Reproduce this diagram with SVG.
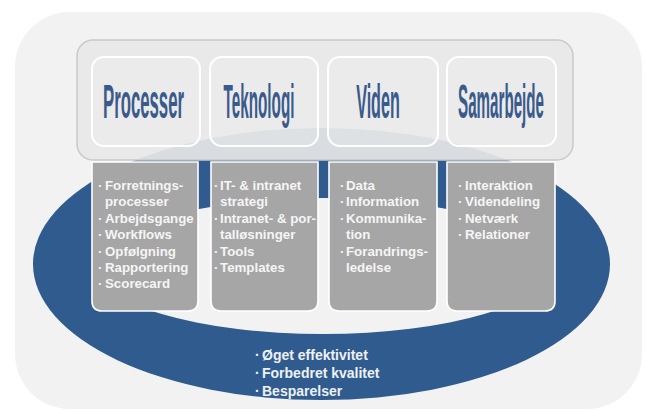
<svg xmlns="http://www.w3.org/2000/svg" width="646" height="412" viewBox="0 0 646 412">
<style>
.hdr{fill:#3a5a8b;font-family:"Liberation Sans",Arial,sans-serif;font-weight:bold;font-size:48px;text-anchor:middle}
.hbox{fill:#ffffff;fill-opacity:0.12;stroke:#ffffff;stroke-width:2}
.cbox{fill:#a6a6a6;stroke:#ffffff;stroke-width:1.6}
.t{fill:#f5f5f5;font-family:"Liberation Sans",Arial,sans-serif;font-weight:bold;font-size:13.3px}
.b{fill:#eef1f5;font-family:"Liberation Sans",Arial,sans-serif;font-weight:bold;font-size:14px}
</style>
<rect width="646" height="412" fill="#ffffff"/>
<rect id="background" x="15" y="12" width="627" height="397" rx="55" ry="55" fill="#f2f2f2"/>
<path id="ring" fill="#305b8f" fill-rule="evenodd" d="M 33,264 a 288.5,136 0 1,0 577,0 a 288.5,136 0 1,0 -577,0 Z M 95,266 a 228,68 0 1,0 456,0 a 228,68 0 1,0 -456,0 Z"/>
<rect id="panel" x="77" y="40" width="496" height="120" rx="16" ry="16" fill="#e8e8e8" fill-opacity="0.92" stroke="#c9c9c9" stroke-width="1.5"/>
<g id="processer">
<rect class="hbox" x="92" y="57" width="108" height="89" rx="12"/>
<text class="hdr" transform="translate(143.5,118) scale(0.349,1)">Processer</text>
<path class="cbox" d="M92,162 H198 V301 Q198,311 188,311 H102 Q92,311 92,301 Z"/>
<text class="t"><tspan x="98" y="190">·</tspan><tspan x="105" y="190">Forretnings-</tspan><tspan x="105" y="206.4">processer</tspan><tspan x="98" y="222.8">·</tspan><tspan x="105" y="222.8">Arbejdsgange</tspan><tspan x="98" y="239.2">·</tspan><tspan x="105" y="239.2">Workflows</tspan><tspan x="98" y="255.6">·</tspan><tspan x="105" y="255.6">Opfølgning</tspan><tspan x="98" y="272">·</tspan><tspan x="105" y="272">Rapportering</tspan><tspan x="98" y="288.4">·</tspan><tspan x="105" y="288.4">Scorecard</tspan></text>
</g>
<g id="teknologi">
<rect class="hbox" x="210" y="57" width="108" height="89" rx="12"/>
<text class="hdr" transform="translate(259,118) scale(0.318,1)">Teknologi</text>
<path class="cbox" d="M211,162 H318 V301 Q318,311 308,311 H221 Q211,311 211,301 Z"/>
<text class="t"><tspan x="214" y="190">·</tspan><tspan x="220" y="190">IT- &amp; intranet</tspan><tspan x="220" y="206.4">strategi</tspan><tspan x="214" y="222.8">·</tspan><tspan x="220" y="222.8">Intranet- &amp; por-</tspan><tspan x="220" y="239.2">talløsninger</tspan><tspan x="214" y="255.6">·</tspan><tspan x="220" y="255.6">Tools</tspan><tspan x="214" y="272">·</tspan><tspan x="220" y="272">Templates</tspan></text>
</g>
<g id="viden">
<rect class="hbox" x="328" y="57" width="110" height="89" rx="12"/>
<text class="hdr" transform="translate(378,118) scale(0.337,1)">Viden</text>
<path class="cbox" d="M329,162 H437 V301 Q437,311 427,311 H339 Q329,311 329,301 Z"/>
<text class="t"><tspan x="340" y="190">·</tspan><tspan x="346" y="190">Data</tspan><tspan x="340" y="206.4">·</tspan><tspan x="346" y="206.4">Information</tspan><tspan x="340" y="222.8">·</tspan><tspan x="346" y="222.8">Kommunika-</tspan><tspan x="346" y="239.2">tion</tspan><tspan x="340" y="255.6">·</tspan><tspan x="346" y="255.6">Forandrings-</tspan><tspan x="346" y="272">ledelse</tspan></text>
</g>
<g id="samarbejde">
<rect class="hbox" x="447" y="57" width="109" height="89" rx="12"/>
<text class="hdr" transform="translate(501,118) scale(0.316,1)">Samarbejde</text>
<path class="cbox" d="M447,162 H555 V301 Q555,311 545,311 H457 Q447,311 447,301 Z"/>
<text class="t"><tspan x="458" y="190">·</tspan><tspan x="465" y="190">Interaktion</tspan><tspan x="458" y="206.4">·</tspan><tspan x="465" y="206.4">Videndeling</tspan><tspan x="458" y="222.8">·</tspan><tspan x="465" y="222.8">Netværk</tspan><tspan x="458" y="239.2">·</tspan><tspan x="465" y="239.2">Relationer</tspan></text>
</g>
<g id="effekt">
<text class="b"><tspan x="255" y="360">·</tspan><tspan x="262" y="360">Øget effektivitet</tspan><tspan x="255" y="378">·</tspan><tspan x="262" y="378">Forbedret kvalitet</tspan><tspan x="255" y="396">·</tspan><tspan x="262" y="396">Besparelser</tspan></text>
</g>
</svg>
